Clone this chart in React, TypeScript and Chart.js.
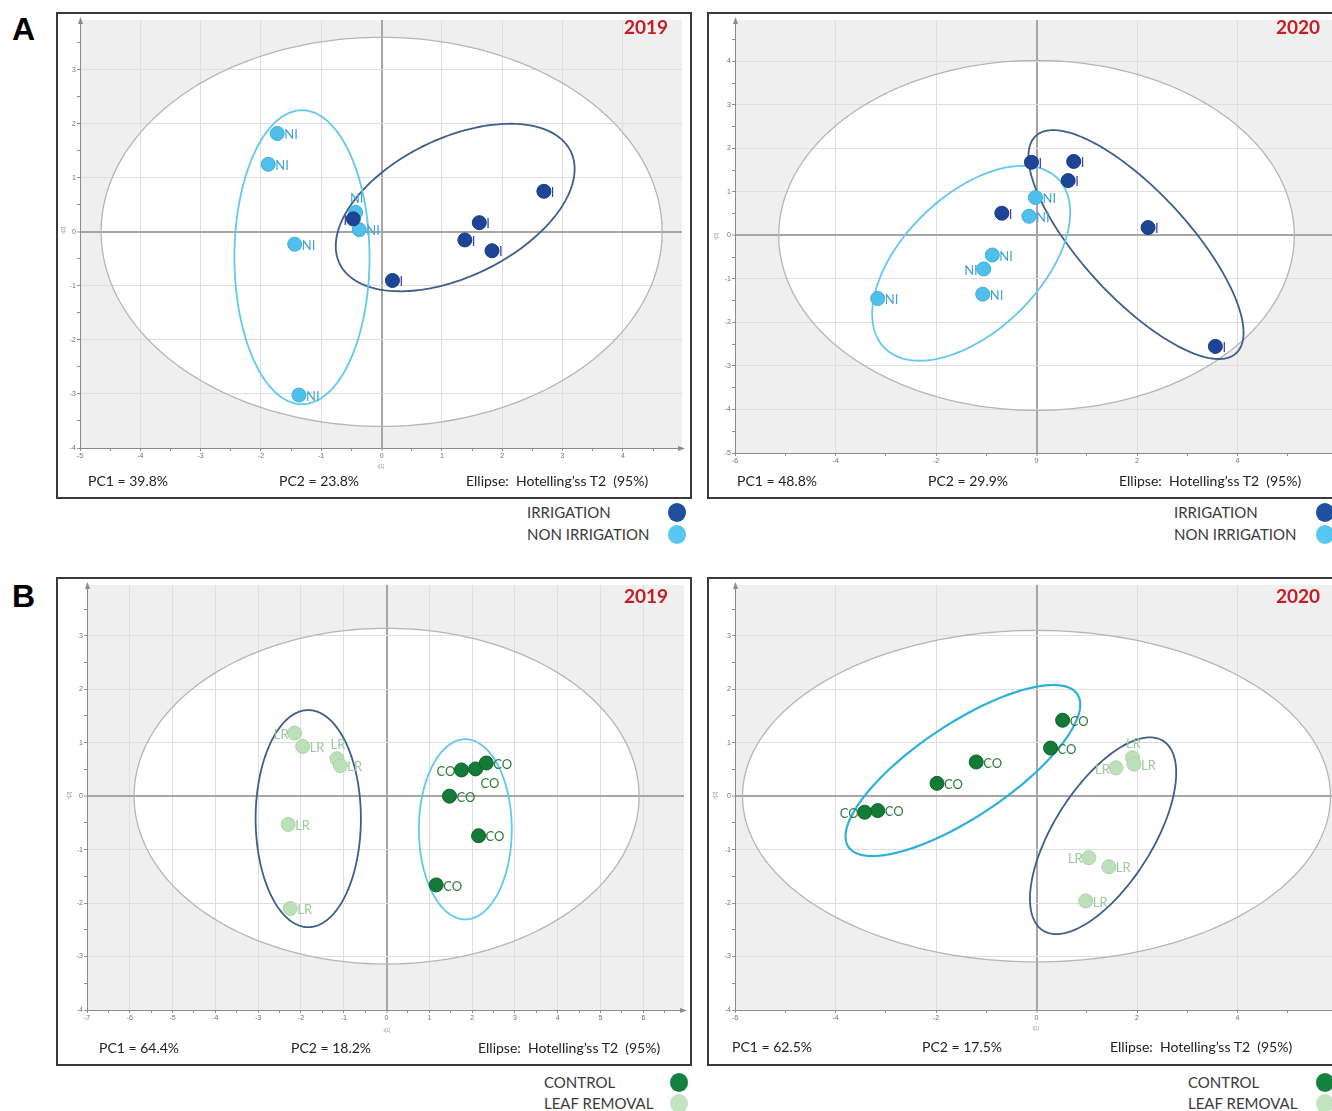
import React, { useEffect, useRef } from 'react';
import { Chart, registerables } from 'chart.js';

Chart.register(...registerables);

// ---------- PCA scores, t[1] and t[2], one pair of arrays per group ----------

// A · 2019 (irrigation trial)
const a19IrrigationT1 = [-0.47, 2.69, 1.62, 1.38, 1.83, 0.18];
const a19IrrigationT2 = [0.24, 0.75, 0.17, -0.15, -0.35, -0.9];
const a19NonIrrigationT1 = [-1.73, -1.88, -0.43, -0.37, -1.44, -1.37];
const a19NonIrrigationT2 = [1.82, 1.25, 0.36, 0.04, -0.23, -3.02];

// A · 2020 (irrigation trial)
const a20IrrigationT1 = [-0.1, 0.74, 0.63, -0.69, 2.22, 3.56];
const a20IrrigationT2 = [1.68, 1.7, 1.26, 0.51, 0.18, -2.55];
const a20NonIrrigationT1 = [-0.02, -0.15, -0.88, -1.05, -1.07, -3.16];
const a20NonIrrigationT2 = [0.87, 0.44, -0.45, -0.77, -1.35, -1.45];

// B · 2019 (leaf removal trial)
const b19ControlT1 = [1.75, 2.08, 2.33, 1.47, 2.15, 1.16];
const b19ControlT2 = [0.49, 0.51, 0.62, 0.0, -0.74, -1.66];
const b19LeafRemovalT1 = [-2.15, -1.96, -1.16, -1.08, -2.3, -2.25];
const b19LeafRemovalT2 = [1.18, 0.93, 0.7, 0.57, -0.53, -2.1];

// B · 2020 (leaf removal trial)
const b20ControlT1 = [0.52, 0.28, -1.2, -1.98, -3.16, -3.42];
const b20ControlT2 = [1.42, 0.9, 0.64, 0.24, -0.27, -0.3];
const b20LeafRemovalT1 = [1.91, 1.94, 1.58, 1.04, 1.44, 0.98];
const b20LeafRemovalT2 = [0.72, 0.6, 0.53, -1.15, -1.32, -1.96];

// Ellipses: [centre t1, centre t2, half-width, half-height, correlation]
const a19Hotelling = [0, 0, 4.65, 3.6, 0];
const a19IrrigationEllipse = [1.22, 0.45, 1.98, 1.55, 0.46];
const a19NonIrrigationEllipse = [-1.32, -0.47, 1.12, 2.72, 0];
const a20Hotelling = [0, 0, 5.13, 4.02, 0];
const a20IrrigationEllipse = [1.98, -0.21, 2.14, 2.63, -0.77];
const a20NonIrrigationEllipse = [-1.3, -0.64, 1.97, 2.24, 0.52];
const b19Hotelling = [0, 0, 5.9, 3.14, 0];
const b19ControlEllipse = [1.84, -0.62, 1.085, 1.685, 0];
const b19LeafRemovalEllipse = [-1.83, -0.42, 1.23, 2.03, 0];
const b20Hotelling = [0, 0, 5.85, 3.1, 0];
const b20ControlEllipse = [-1.465, 0.48, 2.335, 1.6, 0.77];
const b20LeafRemovalEllipse = [1.325, -0.74, 1.455, 1.84, 0.64];

// Explained variance (%) of PC1, PC2
const a19Variance = [39.8, 23.8];
const a20Variance = [48.8, 29.9];
const b19Variance = [64.4, 18.2];
const b20Variance = [62.5, 17.5];

// Where each point's tag sits: r = right, l = left, t = above, br = below right
const a19IrrigationTags = ['l', 'r', 'r', 'r', 'r', 'r'];
const a19NonIrrigationTags = ['r', 'r', 't', 'r', 'r', 'r'];
const a20IrrigationTags = ['r', 'r', 'r', 'r', 'r', 'r'];
const a20NonIrrigationTags = ['r', 'r', 'r', 'l', 'r', 'r'];
const b19ControlTags = ['l', 'br', 'r', 'r', 'r', 'r'];
const b19LeafRemovalTags = ['l', 'r', 't', 'r', 'r', 'r'];
const b20ControlTags = ['r', 'r', 'r', 'r', 'r', 'l'];
const b20LeafRemovalTags = ['t', 'r', 'l', 'l', 'r', 'r'];

// ---------- styling ----------
const IRR = { fill: '#1d4596', edge: '#163a82', tag: '#3c42a6', name: 'IRRIGATION' };
const NIRR = { fill: '#4fc0ec', edge: '#3eaedc', tag: '#47a3cd', name: 'NON IRRIGATION' };
const CTRL = { fill: '#137a38', edge: '#0d612b', tag: '#2e7a3c', name: 'CONTROL' };
const LEAF = { fill: '#bde0ba', edge: '#a9d4a5', tag: '#9cc998', name: 'LEAF REMOVAL' };
const SLATE = '#3d5f8a';
const SKY = '#62c8ef';
const CYAN = '#2cb1dc';

interface Group {
  tag: string;
  t1: number[];
  t2: number[];
  sides: string[];
  fill: string;
  edge: string;
  tagColor: string;
  ellipse: number[];
  ellipseColor: string;
  ellipseWidth: number;
}

interface Panel {
  year: string;
  variance: number[];
  hotelling: number[];
  groups: Group[];
  legend: { name: string; color: string }[];
  xRange: number[];
  yRange: number[];
  xMajor: number;
  xMinor: number;
  yMajor: number;
  yMinor: number;
  box: number[];
  plot: number[];
  footerX: number[];
  footerY: number;
  yearX: number;
  yearY: number;
  legendX: number;
  dotX: number;
  legendY: number[];
  yTitle: number[];
  xTitle: number[] | null;
}

const panels: Panel[] = [
  {
    year: '2019',
    variance: a19Variance,
    hotelling: a19Hotelling,
    groups: [
      { tag: 'I', t1: a19IrrigationT1, t2: a19IrrigationT2, sides: a19IrrigationTags, fill: IRR.fill, edge: IRR.edge, tagColor: IRR.tag, ellipse: a19IrrigationEllipse, ellipseColor: SLATE, ellipseWidth: 1.8 },
      { tag: 'NI', t1: a19NonIrrigationT1, t2: a19NonIrrigationT2, sides: a19NonIrrigationTags, fill: NIRR.fill, edge: NIRR.edge, tagColor: NIRR.tag, ellipse: a19NonIrrigationEllipse, ellipseColor: SKY, ellipseWidth: 1.8 },
    ],
    legend: [{ name: IRR.name, color: '#1f4f9f' }, { name: NIRR.name, color: '#57c6f1' }],
    xRange: [-5, 4.98], yRange: [-4, 3.92], xMajor: 1, xMinor: 0.5, yMajor: 1, yMinor: 0.5,
    box: [56, 12, 692, 499], plot: [80, 17, 682, 448],
    footerX: [88, 279, 466], footerY: 482, yearX: 624, yearY: 28,
    legendX: 527, dotX: 677, legendY: [512, 534],
    yTitle: [63, 230], xTitle: [381, 466],
  },
  {
    year: '2020',
    variance: a20Variance,
    hotelling: a20Hotelling,
    groups: [
      { tag: 'I', t1: a20IrrigationT1, t2: a20IrrigationT2, sides: a20IrrigationTags, fill: IRR.fill, edge: IRR.edge, tagColor: IRR.tag, ellipse: a20IrrigationEllipse, ellipseColor: SLATE, ellipseWidth: 1.8 },
      { tag: 'NI', t1: a20NonIrrigationT1, t2: a20NonIrrigationT2, sides: a20NonIrrigationTags, fill: NIRR.fill, edge: NIRR.edge, tagColor: NIRR.tag, ellipse: a20NonIrrigationEllipse, ellipseColor: SKY, ellipseWidth: 1.8 },
    ],
    legend: [{ name: IRR.name, color: '#1f4f9f' }, { name: NIRR.name, color: '#57c6f1' }],
    xRange: [-6, 5.98], yRange: [-5, 4.95], xMajor: 2, xMinor: 1, yMajor: 1, yMinor: 0.5,
    box: [707, 12, 1350, 499], plot: [735, 18, 1337, 453],
    footerX: [737, 928, 1119], footerY: 482, yearX: 1276, yearY: 28,
    legendX: 1174, dotX: 1325, legendY: [512, 534],
    yTitle: [716, 236], xTitle: null,
  },
  {
    year: '2019',
    variance: b19Variance,
    hotelling: b19Hotelling,
    groups: [
      { tag: 'CO', t1: b19ControlT1, t2: b19ControlT2, sides: b19ControlTags, fill: CTRL.fill, edge: CTRL.edge, tagColor: CTRL.tag, ellipse: b19ControlEllipse, ellipseColor: SKY, ellipseWidth: 1.8 },
      { tag: 'LR', t1: b19LeafRemovalT1, t2: b19LeafRemovalT2, sides: b19LeafRemovalTags, fill: LEAF.fill, edge: LEAF.edge, tagColor: LEAF.tag, ellipse: b19LeafRemovalEllipse, ellipseColor: SLATE, ellipseWidth: 1.8 },
    ],
    legend: [{ name: CTRL.name, color: '#14813f' }, { name: LEAF.name, color: '#c3e4c0' }],
    xRange: [-7, 6.95], yRange: [-4, 3.95], xMajor: 1, xMinor: 0.5, yMajor: 1, yMinor: 0.5,
    box: [56, 577, 692, 1066], plot: [87, 583, 686, 1010],
    footerX: [99, 291, 478], footerY: 1049, yearX: 624, yearY: 596.5,
    legendX: 544, dotX: 679, legendY: [1082, 1103],
    yTitle: [69, 795], xTitle: [387, 1030],
  },
  {
    year: '2020',
    variance: b20Variance,
    hotelling: b20Hotelling,
    groups: [
      { tag: 'CO', t1: b20ControlT1, t2: b20ControlT2, sides: b20ControlTags, fill: CTRL.fill, edge: CTRL.edge, tagColor: CTRL.tag, ellipse: b20ControlEllipse, ellipseColor: CYAN, ellipseWidth: 2.2 },
      { tag: 'LR', t1: b20LeafRemovalT1, t2: b20LeafRemovalT2, sides: b20LeafRemovalTags, fill: LEAF.fill, edge: LEAF.edge, tagColor: LEAF.tag, ellipse: b20LeafRemovalEllipse, ellipseColor: SLATE, ellipseWidth: 1.8 },
    ],
    legend: [{ name: CTRL.name, color: '#14813f' }, { name: LEAF.name, color: '#c3e4c0' }],
    xRange: [-6, 5.98], yRange: [-4, 3.95], xMajor: 2, xMinor: 1, yMajor: 1, yMinor: 0.5,
    box: [707, 577, 1350, 1066], plot: [735, 583, 1337, 1010],
    footerX: [732, 922, 1110], footerY: 1048, yearX: 1276, yearY: 596.5,
    legendX: 1188, dotX: 1325, legendY: [1082, 1103],
    yTitle: [715, 795], xTitle: [1036, 1028],
  },
];

// ---------- drawing helpers ----------
const onStep = (v: number, step: number) => Math.abs(v / step - Math.round(v / step)) < 1e-6;

function axisOptions(range: number[], major: number, minor: number, fitSize: number, horizontal: boolean) {
  return {
    type: 'linear',
    min: range[0],
    max: range[1],
    ticks: {
      stepSize: minor,
      includeBounds: false,
      autoSkip: false,
      maxRotation: 0,
      minRotation: 0,
      padding: 1,
      color: '#6e6e6e',
      font: { family: 'Liberation Sans', size: 7 },
      callback: (v: number) => (onStep(v, major) ? String(Math.round(v)) : ''),
    },
    grid: {
      color: (c: any) => {
        const v = c.tick ? c.tick.value : NaN;
        if (!onStep(v, major)) return 'rgba(0,0,0,0)';
        return Math.abs(v) < 1e-9 ? '#a6a6a6' : '#dedede';
      },
      lineWidth: (c: any) => (c.tick && Math.abs(c.tick.value) < 1e-9 ? 2 : 1),
      tickColor: '#8f8f8f',
      tickWidth: 1,
      tickLength: 3,
    },
    border: { display: true, color: '#8a8a8a', width: 1 },
    afterFit: (s: any) => {
      if (horizontal) s.height = fitSize;
      else s.width = fitSize;
    },
  };
}

function traceEllipse(chart: Chart, e: number[]) {
  const [cx, cy, hx, hy, rho] = e;
  const s = Math.sqrt(1 - rho * rho);
  const xs = chart.scales.x;
  const ys = chart.scales.y;
  const ctx = chart.ctx;
  const n = 240;
  ctx.beginPath();
  for (let i = 0; i <= n; i++) {
    const t = (i / n) * Math.PI * 2;
    const px = xs.getPixelForValue(cx + hx * Math.cos(t));
    const py = ys.getPixelForValue(cy + hy * (rho * Math.cos(t) + s * Math.sin(t)));
    if (i === 0) ctx.moveTo(px, py);
    else ctx.lineTo(px, py);
  }
  ctx.closePath();
}

function decorations(panel: Panel) {
  return {
    id: 'scoreDecor',
    beforeDraw(chart: Chart) {
      const { ctx, chartArea: a } = chart;
      ctx.save();
      ctx.fillStyle = '#efefef';
      ctx.fillRect(a.left, a.top, a.right - a.left, a.bottom - a.top);
      traceEllipse(chart, panel.hotelling);
      ctx.fillStyle = '#ffffff';
      ctx.fill();
      ctx.restore();
    },
    beforeDatasetsDraw(chart: Chart) {
      const ctx = chart.ctx;
      ctx.save();
      traceEllipse(chart, panel.hotelling);
      ctx.strokeStyle = '#b5b5b5';
      ctx.lineWidth = 1.3;
      ctx.stroke();
      panel.groups.forEach((g) => {
        traceEllipse(chart, g.ellipse);
        ctx.strokeStyle = g.ellipseColor;
        ctx.lineWidth = g.ellipseWidth;
        ctx.stroke();
      });
      ctx.restore();
    },
    afterDatasetsDraw(chart: Chart) {
      const ctx = chart.ctx;
      ctx.save();
      ctx.font = '13px Lato';
      ctx.textBaseline = 'middle';
      panel.groups.forEach((g, gi) => {
        const meta = chart.getDatasetMeta(gi);
        ctx.fillStyle = g.tagColor;
        meta.data.forEach((el: any, i: number) => {
          const side = g.sides[i];
          let x = el.x + 7;
          let y = el.y + 1.5;
          ctx.textAlign = 'left';
          if (side === 'l') {
            ctx.textAlign = 'right';
            x = el.x - 6;
          } else if (side === 't') {
            ctx.textAlign = 'center';
            x = el.x + 1;
            y = el.y - 14;
          } else if (side === 'br') {
            x = el.x + 5;
            y = el.y + 15;
          }
          ctx.fillText(g.tag, x, y);
        });
      });
      ctx.restore();
    },
    afterDraw(chart: Chart) {
      const { ctx, chartArea: a } = chart;
      ctx.save();
      ctx.fillStyle = '#8a8a8a';
      ctx.beginPath();
      ctx.moveTo(a.left + 0.5, a.top - 3);
      ctx.lineTo(a.left - 2, a.top + 4);
      ctx.lineTo(a.left + 3, a.top + 4);
      ctx.closePath();
      ctx.fill();
      ctx.beginPath();
      ctx.moveTo(a.right + 3, a.bottom + 0.5);
      ctx.lineTo(a.right - 4, a.bottom - 2);
      ctx.lineTo(a.right - 4, a.bottom + 3);
      ctx.closePath();
      ctx.fill();
      ctx.restore();
    },
  };
}

function ScorePlot({ panel }: { panel: Panel }) {
  const ref = useRef<HTMLCanvasElement | null>(null);
  const [bl, bt, br, bb] = panel.box;
  const [pl, pt, pr, pb] = panel.plot;
  const w = br - bl;
  const h = bb - bt;

  useEffect(() => {
    const canvas = ref.current;
    if (!canvas) return;
    const chart = new Chart(canvas, {
      type: 'scatter',
      data: {
        datasets: panel.groups.map((g) => ({
          label: g.tag,
          data: g.t1.map((x, i) => ({ x, y: g.t2[i] })),
          pointRadius: 7,
          pointHoverRadius: 7,
          pointBackgroundColor: g.fill,
          pointBorderColor: g.edge,
          pointBorderWidth: 1,
        })),
      },
      options: {
        responsive: false,
        animation: false,
        events: [],
        layout: { padding: { left: 0, top: pt - bt, right: br - pr, bottom: 0 } },
        plugins: { legend: { display: false }, tooltip: { enabled: false } },
        scales: {
          x: axisOptions(panel.xRange, panel.xMajor, panel.xMinor, bb - pb, true),
          y: axisOptions(panel.yRange, panel.yMajor, panel.yMinor, pl - bl, false),
        },
      } as any,
      plugins: [decorations(panel)],
    });
    return () => chart.destroy();
  }, [panel]);

  return (
    <canvas
      ref={ref}
      width={w}
      height={h}
      style={{ position: 'absolute', left: bl, top: bt, width: w, height: h }}
    />
  );
}

const LATO = 'Lato, "Open Sans", sans-serif';

function Text(props: { x: number; cy: number; size: number; color?: string; bold?: boolean; family?: string; children: React.ReactNode }) {
  const { x, cy, size, color = '#222', bold = false, family = LATO, children } = props;
  return (
    <div
      style={{
        position: 'absolute',
        left: x,
        top: cy - size * 0.62,
        fontFamily: family,
        fontSize: size,
        lineHeight: 1.2,
        fontWeight: bold ? 700 : 400,
        color,
        whiteSpace: 'pre',
      }}
    >
      {children}
    </div>
  );
}

function PanelFrame({ panel }: { panel: Panel }) {
  const [bl, bt, br, bb] = panel.box;
  return (
    <>
      <ScorePlot panel={panel} />
      <div
        style={{
          position: 'absolute',
          left: bl,
          top: bt,
          width: br - bl,
          height: bb - bt,
          boxSizing: 'border-box',
          border: '2px solid #3a3a3a',
          pointerEvents: 'none',
        }}
      />
      <Text x={panel.yearX} cy={panel.yearY} size={19} bold color="#c41e24">
        {panel.year}
      </Text>
      <Text x={panel.footerX[0]} cy={panel.footerY} size={14}>
        {`PC1 = ${panel.variance[0].toFixed(1)}%`}
      </Text>
      <Text x={panel.footerX[1]} cy={panel.footerY} size={14}>
        {`PC2 = ${panel.variance[1].toFixed(1)}%`}
      </Text>
      <Text x={panel.footerX[2]} cy={panel.footerY} size={14}>
        {'Ellipse:  Hotelling’ss T2  (95%)'}
      </Text>
      <div
        style={{
          position: 'absolute',
          left: panel.yTitle[0] - 8,
          top: panel.yTitle[1] - 4,
          width: 16,
          height: 8,
          fontFamily: 'Liberation Sans',
          fontSize: 5,
          lineHeight: '8px',
          textAlign: 'center',
          color: '#9a9a9a',
          transform: 'rotate(-90deg)',
        }}
      >
        t[2]
      </div>
      {panel.xTitle && (
        <div
          style={{
            position: 'absolute',
            left: panel.xTitle[0] - 8,
            top: panel.xTitle[1] - 4,
            width: 16,
            height: 8,
            fontFamily: 'Liberation Sans',
            fontSize: 5,
            lineHeight: '8px',
            textAlign: 'center',
            color: '#9a9a9a',
          }}
        >
          t[1]
        </div>
      )}
      {panel.legend.map((item, i) => (
        <React.Fragment key={item.name}>
          <Text x={panel.legendX} cy={panel.legendY[i]} size={15} color="#3a3a3a">
            {item.name}
          </Text>
          <div
            style={{
              position: 'absolute',
              left: panel.dotX - 9,
              top: panel.legendY[i] - 9.5,
              width: 18,
              height: 19,
              borderRadius: '50%',
              background: item.color,
            }}
          />
        </React.Fragment>
      ))}
    </>
  );
}

export default function App() {
  return (
    <div
      style={{
        position: 'fixed',
        left: 0,
        top: 0,
        width: 1332,
        height: 1111,
        overflow: 'hidden',
        background: '#ffffff',
      }}
    >
      <Text x={12} cy={30} size={32} bold color="#000" family='"Liberation Sans", Arial, sans-serif'>
        A
      </Text>
      <Text x={12} cy={597} size={32} bold color="#000" family='"Liberation Sans", Arial, sans-serif'>
        B
      </Text>
      {panels.map((p, i) => (
        <PanelFrame key={i} panel={p} />
      ))}
    </div>
  );
}
